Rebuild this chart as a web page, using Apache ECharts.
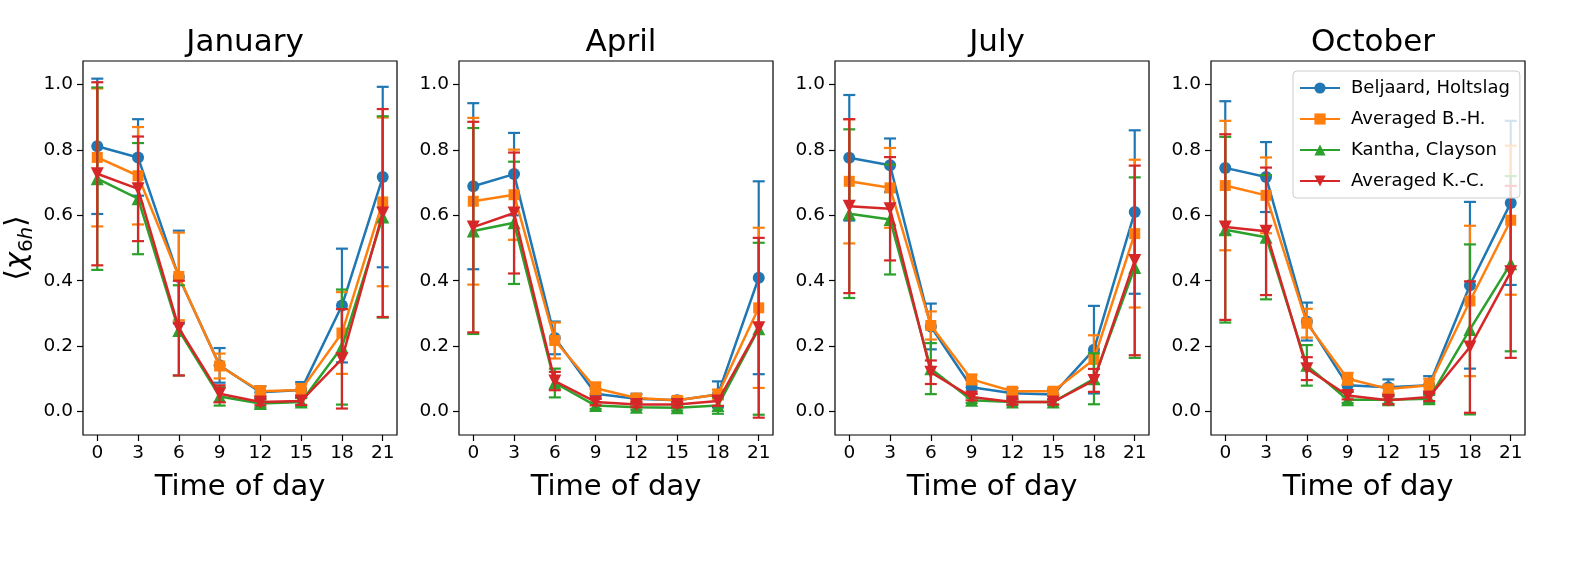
<!DOCTYPE html>
<html>
<head>
<meta charset="utf-8">
<script src="https://cdn.jsdelivr.net/npm/echarts@6/dist/echarts.min.js"></script>
<style>
  html, body { margin: 0; padding: 0; background: #fff; }
  #main { width: 1585px; height: 568px; }
</style>
</head>
<body>
<div id="main"></div>
<script>
// hours of the day (x) and tick values
const hours = [0, 3, 6, 9, 12, 15, 18, 21];
const xTicks = [0, 3, 6, 9, 12, 15, 18, 21];
const yTicks = [0, 0.2, 0.4, 0.6, 0.8, 1.0];
const months = ['January', 'April', 'July', 'October'];
const seriesNames = ['Beljaard, Holtslag', 'Averaged B.-H.', 'Kantha, Clayson', 'Averaged K.-C.'];

// January: means and standard deviations
const janBH   = [0.811, 0.777, 0.411, 0.141, 0.059, 0.066, 0.324, 0.717];
const janBHs  = [0.207, 0.117, 0.142, 0.053, 0.018, 0.024, 0.174, 0.276];
const janABH  = [0.777, 0.721, 0.413, 0.139, 0.062, 0.066, 0.240, 0.641];
const janABHs = [0.211, 0.149, 0.134, 0.038, 0.015, 0.018, 0.125, 0.258];
const janKC   = [0.712, 0.651, 0.248, 0.046, 0.024, 0.029, 0.197, 0.595];
const janKCs  = [0.279, 0.170, 0.138, 0.028, 0.012, 0.012, 0.176, 0.308];
const janAKC  = [0.727, 0.681, 0.255, 0.054, 0.029, 0.032, 0.161, 0.607];
const janAKCs = [0.280, 0.160, 0.145, 0.026, 0.010, 0.012, 0.152, 0.318];

// April
const aprBH   = [0.689, 0.726, 0.225, 0.054, 0.039, 0.034, 0.052, 0.409];
const aprBHs  = [0.254, 0.126, 0.050, 0.015, 0.015, 0.010, 0.040, 0.295];
const aprABH  = [0.643, 0.663, 0.217, 0.071, 0.041, 0.034, 0.052, 0.317];
const aprABHs = [0.255, 0.138, 0.055, 0.018, 0.010, 0.010, 0.015, 0.245];
const aprKC   = [0.552, 0.577, 0.087, 0.018, 0.013, 0.011, 0.018, 0.253];
const aprKCs  = [0.315, 0.187, 0.044, 0.010, 0.008, 0.008, 0.025, 0.263];
const aprAKC  = [0.564, 0.607, 0.093, 0.029, 0.021, 0.021, 0.032, 0.256];
const aprAKCs = [0.322, 0.185, 0.028, 0.010, 0.008, 0.008, 0.015, 0.275];

// July
const julBH   = [0.776, 0.753, 0.260, 0.074, 0.056, 0.052, 0.189, 0.610];
const julBHs  = [0.192, 0.082, 0.070, 0.020, 0.015, 0.015, 0.134, 0.250];
const julABH  = [0.704, 0.684, 0.263, 0.098, 0.062, 0.062, 0.159, 0.544];
const julABHs = [0.190, 0.122, 0.043, 0.015, 0.010, 0.010, 0.074, 0.226];
const julKC   = [0.605, 0.587, 0.131, 0.034, 0.029, 0.029, 0.100, 0.440];
const julKCs  = [0.258, 0.168, 0.078, 0.008, 0.008, 0.008, 0.078, 0.276];
const julAKC  = [0.628, 0.620, 0.120, 0.044, 0.029, 0.029, 0.095, 0.462];
const julAKCs = [0.266, 0.158, 0.036, 0.010, 0.008, 0.008, 0.035, 0.290];

// October
const octBH   = [0.745, 0.717, 0.275, 0.080, 0.074, 0.080, 0.386, 0.638];
const octBHs  = [0.204, 0.107, 0.058, 0.020, 0.024, 0.028, 0.255, 0.251];
const octABH  = [0.691, 0.661, 0.270, 0.100, 0.069, 0.080, 0.338, 0.585];
const octABHs = [0.198, 0.116, 0.044, 0.018, 0.012, 0.020, 0.230, 0.228];
const octKC   = [0.556, 0.533, 0.141, 0.036, 0.036, 0.039, 0.251, 0.452];
const octKCs  = [0.284, 0.190, 0.062, 0.010, 0.013, 0.012, 0.260, 0.268];
const octAKC  = [0.564, 0.551, 0.131, 0.049, 0.034, 0.044, 0.197, 0.427];
const octAKCs = [0.284, 0.195, 0.035, 0.012, 0.012, 0.012, 0.201, 0.263];

const panels = [
    [[janBH, janBHs], [janABH, janABHs], [janKC, janKCs], [janAKC, janAKCs]],
    [[aprBH, aprBHs], [aprABH, aprABHs], [aprKC, aprKCs], [aprAKC, aprAKCs]],
    [[julBH, julBHs], [julABH, julABHs], [julKC, julKCs], [julAKC, julAKCs]],
    [[octBH, octBHs], [octABH, octABHs], [octKC, octKCs], [octAKC, octAKCs]]
];

const colors = ['#1f77b4', '#ff7f0e', '#2ca02c', '#d62728'];
const symbols = ['circle', 'rect', 'triangle', 'triangle'];
const symbolSizes = [12, 11, 13, 13];
const symbolRotates = [0, 0, 0, 180];
const FONT = 'DejaVu Sans';

const gridLefts = [83, 459, 835, 1211];
const gridTop = 61, gridW = 314, gridH = 374;

// draws one vertical error bar with caps
function renderErr(params, api) {
    const x = api.value(0);
    const lo = api.coord([x, api.value(1)]);
    const hi = api.coord([x, api.value(2)]);
    const w = 6;
    const style = { stroke: api.visual('color'), lineWidth: 2.2 };
    return {
        type: 'group',
        children: [
            { type: 'line', shape: { x1: lo[0], y1: lo[1], x2: hi[0], y2: hi[1] }, style: style },
            { type: 'line', shape: { x1: lo[0] - w, y1: lo[1], x2: lo[0] + w, y2: lo[1] }, style: style },
            { type: 'line', shape: { x1: hi[0] - w, y1: hi[1], x2: hi[0] + w, y2: hi[1] }, style: style }
        ]
    };
}

const chart = echarts.init(document.getElementById('main'));

const titles = [], grids = [], xAxes = [], yAxes = [], series = [];

months.forEach(function (m, p) {
    titles.push({
        text: m,
        left: gridLefts[p] + gridW / 2,
        top: 22,
        textAlign: 'center',
        textStyle: { fontFamily: FONT, fontSize: 31, fontWeight: 'normal', color: '#000' }
    });
    grids.push({
        left: gridLefts[p], top: gridTop, width: gridW, height: gridH,
        show: true, borderColor: '#000', borderWidth: 1.2, backgroundColor: '#fff'
    });
    xAxes.push({
        type: 'value', gridIndex: p, min: -1.05, max: 22.05,
        name: 'Time of day', nameLocation: 'middle', nameGap: 38,
        nameTextStyle: { fontFamily: FONT, fontSize: 29, color: '#000' },
        axisLine: { show: false, onZero: false },
        splitLine: { show: false },
        axisTick: { show: true, length: 6, customValues: xTicks, lineStyle: { color: '#000', width: 1.2 } },
        axisLabel: { customValues: xTicks, margin: 9, fontFamily: FONT, fontSize: 18.5, color: '#000' }
    });
    const ya = {
        type: 'value', gridIndex: p, min: -0.072, max: 1.072,
        axisLine: { show: false, onZero: false },
        splitLine: { show: false },
        axisTick: { show: true, length: 6, customValues: yTicks, lineStyle: { color: '#000', width: 1.2 } },
        axisLabel: {
            customValues: yTicks, margin: 10, fontFamily: FONT, fontSize: 18.5, color: '#000',
            formatter: function (v) { return v.toFixed(1); }
        }
    };
    if (p === 0) {
        ya.name = '{b|⟨}{c|χ}{s|6}{si|h}{b|⟩}';
        ya.nameLocation = 'middle';
        ya.nameRotate = 90;
        ya.nameGap = 46;
        ya.nameTextStyle = {
            rich: {
                b: { fontFamily: FONT, fontSize: 29, color: '#000', lineHeight: 40 },
                c: { fontFamily: FONT, fontSize: 29, fontStyle: 'italic', color: '#000', lineHeight: 40 },
                s: { fontFamily: FONT, fontSize: 20, color: '#000', lineHeight: 20, verticalAlign: 'bottom' },
                si: { fontFamily: FONT, fontSize: 20, fontStyle: 'italic', color: '#000', lineHeight: 20, verticalAlign: 'bottom' }
            }
        };
    }
    yAxes.push(ya);

    panels[p].forEach(function (pair, k) {
        const mean = pair[0], sd = pair[1];
        series.push({
            type: 'custom',
            name: 'err' + p + k,
            xAxisIndex: p, yAxisIndex: p,
            renderItem: renderErr,
            itemStyle: { color: colors[k] },
            encode: { x: 0, y: [1, 2] },
            data: hours.map(function (h, i) { return [h, mean[i] - sd[i], mean[i] + sd[i]]; }),
            z: 2 + 2 * k,
            silent: true
        });
        series.push({
            type: 'line',
            name: seriesNames[k],
            xAxisIndex: p, yAxisIndex: p,
            data: hours.map(function (h, i) { return [h, mean[i]]; }),
            symbol: symbols[k],
            symbolSize: symbolSizes[k],
            symbolRotate: symbolRotates[k],
            showAllSymbol: true,
            lineStyle: { color: colors[k], width: 2.5 },
            itemStyle: { color: colors[k], borderWidth: 0 },
            z: 3 + 2 * k
        });
    });
});

const option = {
    animation: false,
    backgroundColor: '#fff',
    title: titles,
    grid: grids,
    xAxis: xAxes,
    yAxis: yAxes,
    legend: {
        data: seriesNames,
        orient: 'vertical',
        left: 1293, top: 71,
        itemWidth: 40, itemHeight: 14, itemGap: 13,
        padding: [8, 10, 8, 6],
        borderColor: '#cccccc', borderWidth: 1, borderRadius: 4,
        backgroundColor: 'rgba(255,255,255,0.8)',
        textStyle: { fontFamily: FONT, fontSize: 18, color: '#000', padding: [0, 0, 0, 6] },
        z: 20
    },
    series: series
};

chart.setOption(option);
</script>
</body>
</html>
